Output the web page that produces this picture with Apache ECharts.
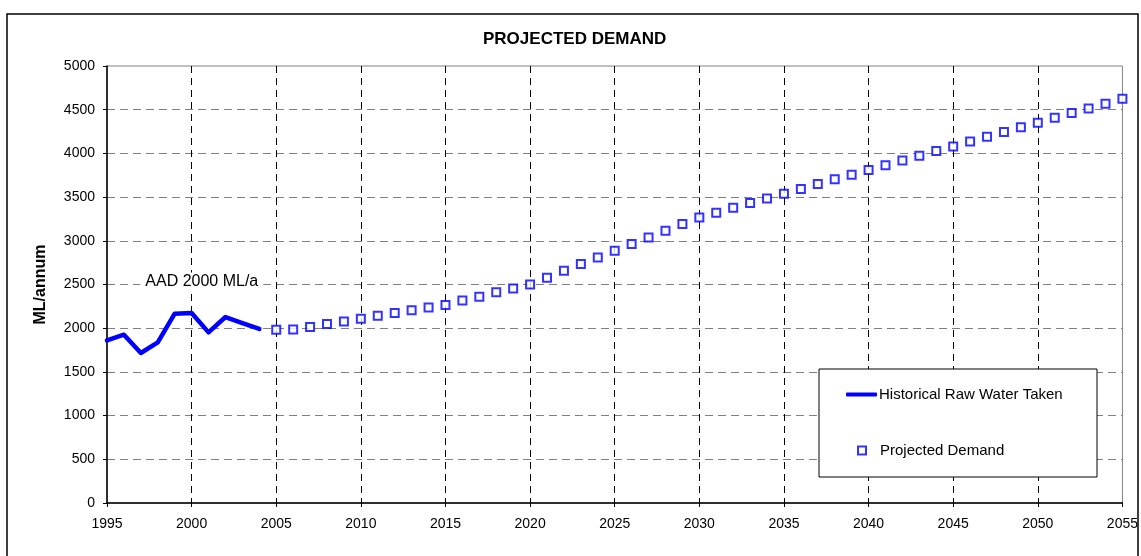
<!DOCTYPE html>
<html>
<head>
<meta charset="utf-8">
<title>Projected Demand</title>
<script src="https://cdn.jsdelivr.net/npm/echarts@6/dist/echarts.min.js"></script>
<style>
  html, body { margin: 0; padding: 0; background: #fff; }
  #chart { width: 1141px; height: 556px; }
</style>
</head>
<body>
<div id="chart"></div>
<script>
// Historical raw water taken (ML/annum)
const histYears = [1995, 1996, 1997, 1998, 1999, 2000, 2001, 2002, 2003, 2004];
const histValues = [1860, 1926, 1716, 1838, 2166, 2174, 1952, 2128, 2059, 1991];

// Projected demand (ML/annum)
const projYears = [
  2005, 2006, 2007, 2008, 2009, 2010, 2011, 2012, 2013, 2014,
  2015, 2016, 2017, 2018, 2019, 2020, 2021, 2022, 2023, 2024,
  2025, 2026, 2027, 2028, 2029, 2030, 2031, 2032, 2033, 2034,
  2035, 2036, 2037, 2038, 2039, 2040, 2041, 2042, 2043, 2044,
  2045, 2046, 2047, 2048, 2049, 2050, 2051, 2052, 2053, 2054, 2055
];
const projValues = [
  1983, 1985, 2014, 2048, 2078, 2109, 2143, 2174, 2204, 2238,
  2265, 2318, 2360, 2410, 2455, 2501, 2578, 2658, 2734, 2810,
  2887, 2963, 3039, 3116, 3192, 3268, 3321, 3379, 3432, 3485,
  3539, 3592, 3650, 3703, 3756, 3810, 3863, 3920, 3974, 4027,
  4080, 4137, 4191, 4245, 4298, 4351, 4409, 4462, 4515, 4569, 4626
];

// Average annual demand note
const aadNote = { year: 2000.6, value: 2535, text: 'AAD 2000 ML/a' };

const histName = 'Historical Raw Water Taken';
const projName = 'Projected Demand';

const FONT = 'Arial, "Liberation Sans", sans-serif';
const BLUE = '#0000ff';

const chart = echarts.init(document.getElementById('chart'), null, { renderer: 'canvas' });

chart.setOption({
  backgroundColor: '#fff',
  animation: false,
  textStyle: { fontFamily: FONT, color: '#000' },
  title: {
    text: 'PROJECTED DEMAND',
    left: 483,
    top: 31,
    padding: 0,
    textStyle: { fontFamily: FONT, fontSize: 17, fontWeight: 'bold', color: '#000' }
  },
  grid: {
    left: 107, right: 14, top: 66, bottom: 53,
    show: true, borderColor: '#808080', borderWidth: 1, backgroundColor: '#fff'
  },
  xAxis: {
    type: 'value',
    min: 1995, max: 2055, interval: 5,
    axisLine: { show: true, onZero: false, lineStyle: { color: '#000', width: 1.5 } },
    axisTick: { show: true, inside: false, length: 4, lineStyle: { color: '#000', width: 1 } },
    axisLabel: { fontFamily: FONT, fontSize: 14, color: '#000', margin: 14, formatter: v => String(v) },
    splitLine: {
      show: true, showMinLine: false, showMaxLine: false,
      lineStyle: { color: '#000', width: 1, type: [7, 5] }
    }
  },
  yAxis: {
    type: 'value',
    min: 0, max: 5000, interval: 500,
    name: 'ML/annum',
    nameLocation: 'middle',
    nameRotate: 90,
    nameGap: 58,
    nameTextStyle: { fontFamily: FONT, fontSize: 16, fontWeight: 'bold', color: '#000' },
    axisLine: { show: true, lineStyle: { color: '#000', width: 1.5 } },
    axisTick: { show: true, inside: false, length: 4, lineStyle: { color: '#000', width: 1 } },
    axisLabel: { fontFamily: FONT, fontSize: 14, color: '#000', margin: 12, formatter: v => String(v) },
    splitLine: {
      show: true, showMinLine: false, showMaxLine: false,
      lineStyle: { color: '#808080', width: 1, type: [8, 5] }
    }
  },
  legend: [
    {
      data: [{ name: histName, icon: 'roundRect' }],
      orient: 'vertical',
      left: 846, top: 387,
      padding: 0,
      itemWidth: 31, itemHeight: 4,
      textStyle: { fontFamily: FONT, fontSize: 15, color: '#000', padding: [0, 0, 0, -3] },
      selectedMode: false,
      z: 6
    },
    {
      data: [{ name: projName, icon: 'rect' }],
      orient: 'vertical',
      left: 857, top: 443,
      padding: 0,
      itemWidth: 8, itemHeight: 8,
      textStyle: { fontFamily: FONT, fontSize: 15, color: '#000', padding: [0, 0, 0, 9] },
      selectedMode: false,
      z: 6
    }
  ],
  graphic: [
    {
      // chart frame
      type: 'rect', z: 1, silent: true,
      shape: { x: 7, y: 14, width: 1131, height: 600 },
      style: { fill: 'none', stroke: '#000', lineWidth: 1.5 }
    },
    {
      // legend box
      type: 'rect', z: 5, silent: true,
      shape: { x: 819, y: 369, width: 278, height: 108 },
      style: { fill: '#fff', stroke: '#000', lineWidth: 1 }
    }
  ],
  series: [
    {
      name: histName,
      type: 'line',
      data: histYears.map((y, i) => [y, histValues[i]]),
      showSymbol: false,
      symbol: 'none',
      lineStyle: { color: BLUE, width: 4.5, join: 'round', cap: 'round' },
      itemStyle: { color: BLUE },
      z: 3,
      markPoint: {
        symbol: 'rect',
        symbolSize: 1,
        itemStyle: { color: 'rgba(0,0,0,0)' },
        label: {
          show: true,
          position: 'inside',
          formatter: aadNote.text,
          fontFamily: FONT,
          fontSize: 16,
          color: '#000',
          backgroundColor: '#fff',
          padding: [1, 5]
        },
        data: [{ coord: [aadNote.year, aadNote.value] }]
      }
    },
    {
      name: projName,
      type: 'scatter',
      data: projYears.map((y, i) => [y, projValues[i]]),
      symbol: 'rect',
      symbolSize: 8,
      itemStyle: { color: '#fff', borderColor: BLUE, borderWidth: 2 },
      z: 3
    }
  ]
});
</script>
</body>
</html>
